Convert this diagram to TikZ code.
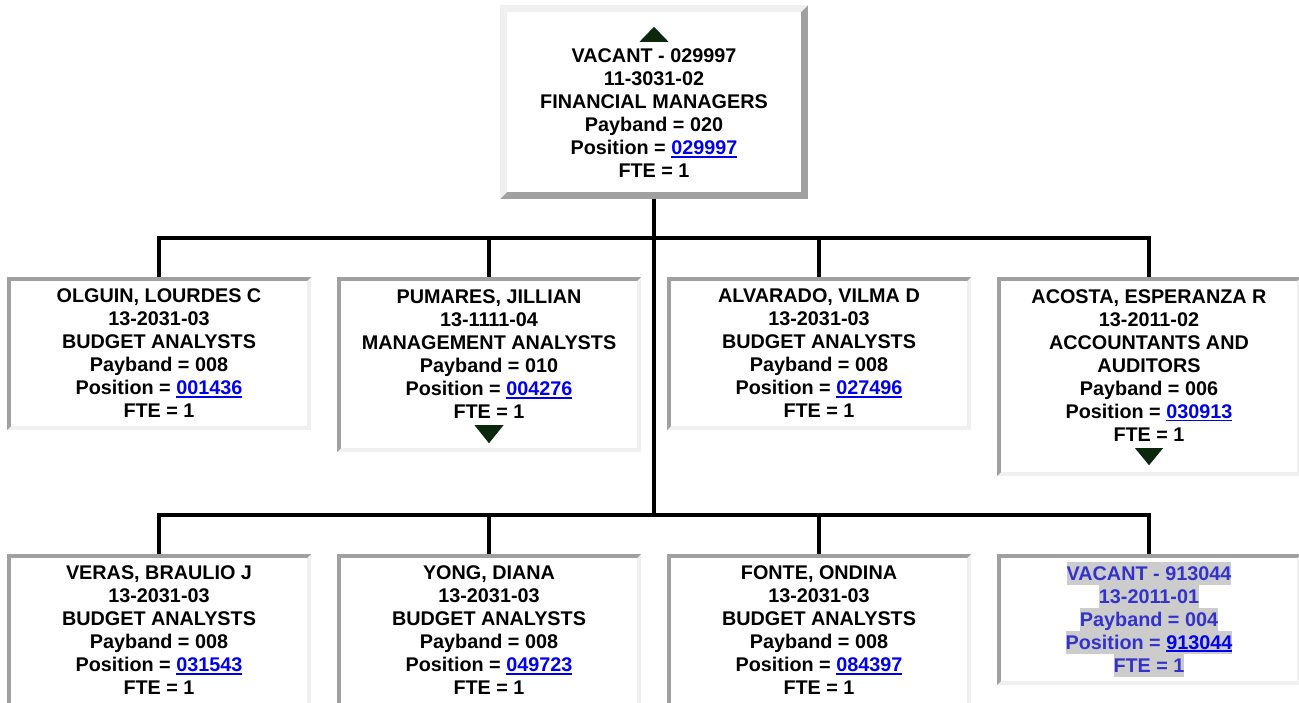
\documentclass[tikz,border=0pt]{standalone}
\usepackage{fontspec}
\setmainfont{Liberation Sans}
\usetikzlibrary{calc}

\definecolor{borderdark}{RGB}{160,160,160}
\definecolor{borderlite}{RGB}{240,240,240}
\definecolor{linkblue}{RGB}{0,0,238}
\definecolor{vacantblue}{RGB}{51,51,204}
\definecolor{vacanthl}{RGB}{204,204,204}
\definecolor{arrowgreen}{RGB}{12,40,12}

% underlined position number
\newcommand{\poslink}[1]{{\color{linkblue}\setbox0\hbox{#1}\rlap{\rule[-3pt]{\wd0}{1.8pt}}\box0}}
% grey highlighted line of a vacant box
\newcommand{\hiline}[1]{{\fboxsep=0pt\colorbox{vacanthl}{\rule[-4.8pt]{0pt}{23pt}#1}}}

\tikzset{
  bevel/.style n args={3}{path picture={
      \fill[#2] (path picture bounding box.north west) rectangle (path picture bounding box.south east);
      \fill[#1] (path picture bounding box.south west) -- (path picture bounding box.north west)
        -- (path picture bounding box.north east) -- ($(path picture bounding box.north east)+(-#3,#3)$)
        -- ($(path picture bounding box.north west)+(#3,#3)$) -- ($(path picture bounding box.south west)+(#3,-#3)$) -- cycle;
      \fill[white] ($(path picture bounding box.north west)+(#3,#3)$) rectangle ($(path picture bounding box.south east)+(-#3,-#3)$);
    }},
  card/.style={rectangle, fill=white, inner sep=0pt, minimum width=304pt, minimum height=153pt,
    align=center, font=\fontsize{19.8}{23}\selectfont\bfseries, bevel={borderdark}{borderlite}{4}},
  wire/.style={line width=4pt},
  tri/.style={fill=arrowgreen},
}

\begin{document}
\begin{tikzpicture}[x=1pt, y=-1pt]
\useasboundingbox (0,0) rectangle (1299,702);
\clip (0,0) rectangle (1299,702);
\fill[white] (0,0) rectangle (1299,702);

% top
\node[card, bevel={borderlite}{borderdark}{7}, minimum width=308pt, minimum height=194pt] (vacant029997) at (654,102)
  {\rule{0pt}{13pt}\\VACANT - 029997\\11-3031-02\\FINANCIAL MANAGERS\\Payband = 020\\Position = \poslink{029997}\\FTE = 1};
\fill[tri] ($(vacant029997.north)+(0,22)$) -- ($(vacant029997.north)+(14.5,37)$) -- ($(vacant029997.north)+(-14.5,37)$) -- cycle;

% first row
\node[card] (olguin) at (159,353.5)
  {OLGUIN, LOURDES C\\13-2031-03\\BUDGET ANALYSTS\\Payband = 008\\Position = \poslink{001436}\\FTE = 1};
\node[card, minimum height=175pt] (pumares) at (489,364.5)
  {PUMARES, JILLIAN\\13-1111-04\\MANAGEMENT ANALYSTS\\Payband = 010\\Position = \poslink{004276}\\FTE = 1\rule[-20pt]{0pt}{1pt}};
\node[card] (alvarado) at (819,353.5)
  {ALVARADO, VILMA D\\13-2031-03\\BUDGET ANALYSTS\\Payband = 008\\Position = \poslink{027496}\\FTE = 1};
\node[card, minimum height=199pt] (acosta) at (1149,376.5)
  {ACOSTA, ESPERANZA R\\13-2011-02\\ACCOUNTANTS AND\\AUDITORS\\Payband = 006\\Position = \poslink{030913}\\FTE = 1\rule[-22pt]{0pt}{1pt}};
\fill[tri] ($(pumares.south)+(-14.5,-27)$) -- ($(pumares.south)+(14.5,-27)$) -- ($(pumares.south)+(0,-9)$) -- cycle;
\fill[tri] ($(acosta.south)+(-14,-28)$) -- ($(acosta.south)+(14,-28)$) -- ($(acosta.south)+(0,-11)$) -- cycle;

% second row
\node[card] (veras) at (159,630.5)
  {VERAS, BRAULIO J\\13-2031-03\\BUDGET ANALYSTS\\Payband = 008\\Position = \poslink{031543}\\FTE = 1};
\node[card] (yong) at (489,630.5)
  {YONG, DIANA\\13-2031-03\\BUDGET ANALYSTS\\Payband = 008\\Position = \poslink{049723}\\FTE = 1};
\node[card] (fonte) at (819,630.5)
  {FONTE, ONDINA\\13-2031-03\\BUDGET ANALYSTS\\Payband = 008\\Position = \poslink{084397}\\FTE = 1};
\node[card, minimum height=131pt, text=vacantblue] (vacant913044) at (1149,619.5)
  {\hiline{VACANT - 913044}\\\hiline{13-2011-01}\\\hiline{Payband = 004}\\\hiline{Position = \poslink{913044}}\\\hiline{FTE = 1}};

% connectors
\coordinate (bus1) at (654,238);
\coordinate (bus2) at (654,515);
\draw[wire] (vacant029997.south) -- (bus2);
\draw[wire] (olguin.north) |- (bus1) -| (acosta.north);
\draw[wire] (pumares.north) -- (pumares.north |- bus1);
\draw[wire] (alvarado.north) -- (alvarado.north |- bus1);
\draw[wire] (veras.north) |- (bus2) -| (vacant913044.north);
\draw[wire] (yong.north) -- (yong.north |- bus2);
\draw[wire] (fonte.north) -- (fonte.north |- bus2);
\end{tikzpicture}
\end{document}
